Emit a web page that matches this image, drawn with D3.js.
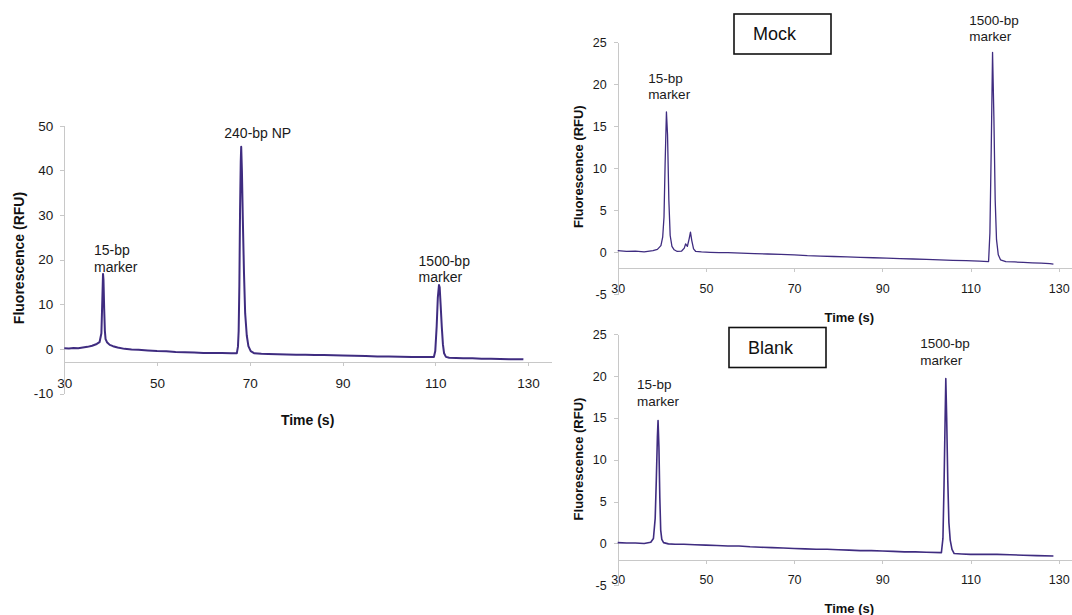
<!DOCTYPE html>
<html>
<head>
<meta charset="utf-8">
<script src="https://cdn.jsdelivr.net/npm/d3@7"></script>
<style>
  body { margin: 0; background: #fff; }
  svg { display: block; font-family: "Liberation Sans", Arial, sans-serif; }
  .axis path, .axis line { stroke: #c8c8c8; shape-rendering: crispEdges; }
  .axis text { fill: #1a1a1a; }
  .trace { fill: none; stroke: #3f2c80; stroke-linejoin: round; }
  .title { font-weight: bold; fill: #111; }
  .note { fill: #1a1a1a; }
</style>
</head>
<body>
<svg width="1072" height="615"></svg>
<script>
// ticks
const timeTicks = [30, 50, 70, 90, 110, 130];
const npTicks = [-10, 0, 10, 20, 30, 40, 50];
const ctrlTicks = [-5, 0, 5, 10, 15, 20, 25];

// traces, [time (s), fluorescence (RFU)]
const npTrace = [
  [30,0.15],[31,0.1],[32,0.2],[33,0.15],[34,0.3],[35,0.45],[36,0.7],[37,1.1],[37.6,1.5],
  [38.0,3.5],[38.2,11],[38.35,16.8],[38.45,15.5],[38.6,9],[38.75,4],[38.9,2.2],[39.2,1.5],
  [39.8,0.9],[40.5,0.6],[41.5,0.3],[43,0],[44.5,-0.15],[46,-0.2],[48,-0.35],[50,-0.5],
  [52,-0.55],[54,-0.7],[56,-0.75],[58,-0.8],[60,-0.9],[62,-0.9],[64,-0.95],[66,-1.0],
  [67.2,-1.0],[67.45,0.5],[67.6,4],[67.75,14],[67.9,31],[68.05,42],[68.15,45.3],[68.3,40],
  [68.5,29],[68.75,17],[69.0,8],[69.35,3],[69.7,0.6],[70.2,-0.5],[71,-1.0],[72.5,-1.1],
  [74,-1.15],[76,-1.2],[78,-1.25],[80,-1.3],[82,-1.3],[84,-1.4],[86,-1.4],[88,-1.45],
  [90,-1.5],[92.5,-1.55],[95,-1.6],[97.5,-1.7],[100,-1.7],[102.5,-1.75],[105,-1.8],
  [107.5,-1.8],[109.7,-1.8],[110.0,-0.5],[110.3,5],[110.55,11.5],[110.8,14.3],[110.95,13.8],
  [111.15,10],[111.4,5],[111.65,1],[111.9,-1.0],[112.3,-1.8],[113,-2.0],[114.5,-2.05],
  [116,-2.1],[118,-2.1],[120,-2.2],[122,-2.2],[124,-2.25],[126,-2.3],[128,-2.3],[129,-2.35]
];

const mockTrace = [
  [30,0.2],[32,0.1],[34,0.15],[36,0.05],[38,0.2],[39,0.35],[39.8,0.8],[40.2,1.8],[40.5,4.2],
  [40.75,10.5],[41.05,16.7],[41.3,14],[41.6,6.2],[41.9,2],[42.3,0.7],[42.8,0.3],[43.5,0.1],
  [44.5,0.15],[45.1,0.5],[45.4,1.0],[45.8,0.7],[46.2,1.6],[46.5,2.4],[46.8,1.4],[47.2,0.4],
  [47.7,0.1],[49,0.05],[51,0],[53,-0.05],[55,-0.05],[58,-0.1],[61,-0.15],[64,-0.2],
  [67,-0.25],[70,-0.3],[73,-0.4],[76,-0.45],[79,-0.5],[82,-0.55],[85,-0.6],[88,-0.65],
  [91,-0.7],[94,-0.75],[97,-0.8],[100,-0.85],[103,-0.9],[106,-0.95],[109,-1.0],[112,-1.05],
  [114.1,-1.1],[114.4,2.3],[114.7,12.2],[115.0,23.8],[115.3,16.2],[115.6,6.2],[115.9,1.5],
  [116.3,-0.3],[116.8,-0.9],[118,-1.1],[120,-1.15],[122,-1.2],[124,-1.25],[126,-1.3],
  [128,-1.35],[128.8,-1.4]
];

const blankTrace = [
  [30,0.1],[32,0.05],[34,0.05],[36,0],[37.5,0.15],[38.1,0.6],[38.5,3],[38.75,7.5],[39.0,12.7],
  [39.15,14.7],[39.35,11.5],[39.55,5.5],[39.75,1.6],[40.0,0.5],[40.4,0.1],[41.5,-0.05],
  [43,-0.1],[45,-0.1],[47.5,-0.15],[50,-0.2],[52.5,-0.25],[55,-0.3],[57.5,-0.3],[60,-0.4],
  [62.5,-0.45],[65,-0.5],[67.5,-0.55],[70,-0.6],[72.5,-0.65],[75,-0.7],[77.5,-0.7],[80,-0.75],
  [82.5,-0.8],[85,-0.85],[87.5,-0.85],[90,-0.9],[92.5,-0.95],[95,-1.0],[97.5,-1.0],[100,-1.05],
  [103.4,-1.1],[103.75,0.6],[104.0,7],[104.25,15],[104.4,19.7],[104.6,15],[104.85,7.5],
  [105.1,2.5],[105.4,0.4],[105.8,-0.7],[106.3,-1.2],[108,-1.25],[110,-1.3],[113,-1.3],
  [116,-1.3],[119,-1.35],[122,-1.4],[125,-1.45],[128.8,-1.5]
];

// peak labels: [time, rfu, line1, line2]
const npNotes = [[36.4, 22.1, "15-bp", "marker"], [64.5, 48.3, "240-bp NP", ""], [106.4, 19.75, "1500-bp", "marker"]];
const mockNotes = [[36.9, 20.7, "15-bp", "marker"], [109.7, 27.6, "1500-bp", "marker"]];
const blankNotes = [[34.4, 19.0, "15-bp", "marker"], [98.6, 23.9, "1500-bp", "marker"]];

let svg = d3.select("svg");

function drawPanel(p) {
  let x = d3.scaleLinear().domain([30, 135]).range([p.left, p.right]);
  let y = d3.scaleLinear().domain([p.yTicks[0], p.yTicks[p.yTicks.length - 1]]).range([p.bottom, p.top]);
  let g = svg.append("g");

  // x axis sits where excel crossed it
  g.append("g")
      .attr("class", "axis")
      .attr("transform", "translate(0," + y(p.cross) + ")")
      .style("font-size", p.tickFont + "px")
      .call(d3.axisBottom(x).tickValues(timeTicks).tickSizeInner(4).tickSizeOuter(0).tickPadding(p.xPad));

  // plain hyphen minus like the original
  g.append("g")
      .attr("class", "axis")
      .attr("transform", "translate(" + p.left + ",0)")
      .style("font-size", p.tickFont + "px")
      .call(d3.axisLeft(y).tickValues(p.yTicks).tickFormat(function(d) { return String(d); })
        .tickSizeInner(4).tickSizeOuter(0).tickPadding(7));

  g.selectAll(".axis .domain").attr("stroke", "#c8c8c8");

  let line = d3.line()
    .x(function(d) { return x(d[0]); })
    .y(function(d) { return y(d[1]); });

  g.append("path")
      .datum(p.trace)
      .attr("class", "trace")
      .attr("stroke-width", p.lineW)
      .attr("d", line);

  p.notes.forEach(function(n) {
    let t = g.append("text")
        .attr("class", "note")
        .attr("x", x(n[0]))
        .attr("y", y(n[1]))
        .attr("dy", "0.35em")
        .style("font-size", p.noteFont + "px");
    t.append("tspan").text(n[2]);
    if (n[3]) t.append("tspan").attr("x", x(n[0])).attr("dy", p.lineGap).text(n[3]);
  });

  g.append("text")
      .attr("class", "title")
      .attr("transform", "translate(" + p.yTitle[0] + "," + p.yTitle[1] + ") rotate(-90)")
      .attr("text-anchor", "middle")
      .attr("dy", "0.35em")
      .style("font-size", p.titleFont + "px")
      .text("Fluorescence (RFU)");

  g.append("text")
      .attr("class", "title")
      .attr("x", p.xTitle[0])
      .attr("y", p.xTitle[1])
      .attr("text-anchor", "middle")
      .attr("dy", "0.35em")
      .style("font-size", p.titleFont + "px")
      .text("Time (s)");

  if (p.box) {
    g.append("rect")
        .attr("x", p.box[0]).attr("y", p.box[1])
        .attr("width", p.box[2]).attr("height", p.box[3])
        .attr("fill", "#fff").attr("stroke", "#111").attr("stroke-width", 1.6);
    g.append("text")
        .attr("x", p.box[0] + 19)
        .attr("y", p.box[1] + p.box[3] / 2)
        .attr("dy", "0.35em")
        .style("font-size", "18px")
        .attr("fill", "#111")
        .text(p.boxText);
  }
}

drawPanel({
  trace: npTrace, notes: npNotes, yTicks: npTicks, cross: -3,
  left: 64.3, right: 551.2, top: 125.7, bottom: 393.5,
  tickFont: 13.5, noteFont: 14, titleFont: 14, lineGap: 16.5, lineW: 2, xPad: 12,
  yTitle: [18.6, 258], xTitle: [307.6, 420]
});

drawPanel({
  trace: mockTrace, notes: mockNotes, yTicks: ctrlTicks, cross: -1.9,
  left: 617.7, right: 617.7 + 105 * 4.41, top: 42.3, bottom: 294.3,
  tickFont: 12.5, noteFont: 13.5, titleFont: 13, lineGap: 16, lineW: 1.3, xPad: 12,
  yTitle: [578.3, 166.7], xTitle: [849.3, 317.7],
  box: [734, 14, 97, 40], boxText: "Mock"
});

drawPanel({
  trace: blankTrace, notes: blankNotes, yTicks: ctrlTicks, cross: -2,
  left: 617.7, right: 617.7 + 105 * 4.41, top: 334.3, bottom: 585.3,
  tickFont: 12.5, noteFont: 13.5, titleFont: 13, lineGap: 16.5, lineW: 1.6, xPad: 11,
  yTitle: [578.3, 459], xTitle: [849.3, 608],
  box: [729, 327.5, 97, 40], boxText: "Blank"
});
</script>
</body>
</html>
